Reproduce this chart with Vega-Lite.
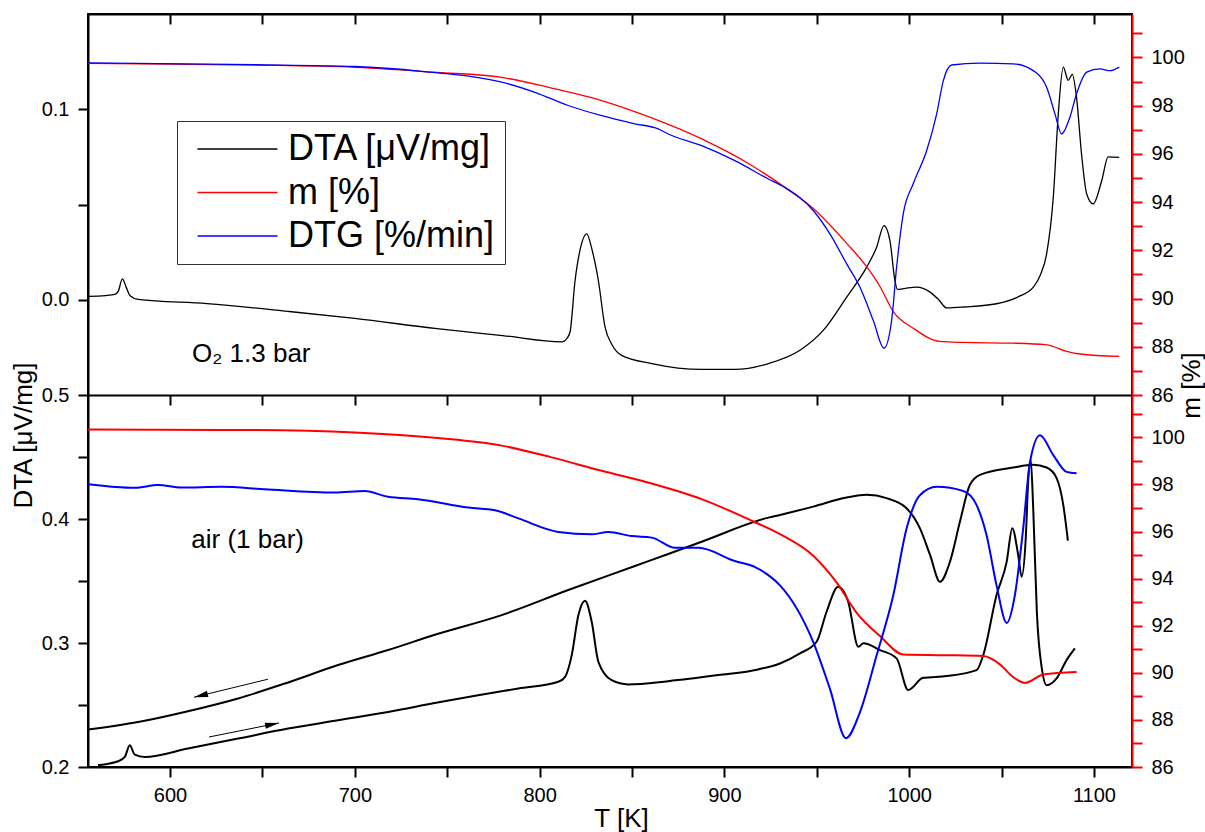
{
  "$schema": "https://vega.github.io/schema/vega-lite/v6.json",
  "width": 1044,
  "height": 753,
  "autosize": {"type": "none"},
  "padding": {"left": 88, "top": 14, "right": 73, "bottom": 65},
  "background": "white",
  "config": {
    "font": "Liberation Sans",
    "view": {"stroke": "black", "strokeWidth": 2},
    "axis": {
      "labelFont": "Liberation Sans", "labelFontSize": 20, "labelColor": "black",
      "titleFont": "Liberation Sans", "titleFontSize": 26, "titleFontWeight": "normal", "titleColor": "black",
      "domainColor": "black", "domainWidth": 2, "tickColor": "black", "tickWidth": 2,
      "grid": false, "labelFlush": false, "labelOverlap": false, "labelBound": false
    },
    "legend": {
      "title": null, "symbolType": "M-3,0H29", "symbolSize": 25, "symbolStrokeWidth": 1.5,
      "labelFontSize": 36, "labelFont": "Liberation Sans", "labelOffset": 65, "rowPadding": 7.5,
      "labelExpr": "datum.label + '\u00a0'",
      "padding": 10, "strokeColor": "#333333", "fillColor": "white", "labelColor": "black", "labelLimit": 500
    }
  },
  "datasets": {
    "topDTA": [
      {"series":"DTA [μV/mg]","T":555.6,"v":0.0018},{"series":"DTA [μV/mg]","T":565,"v":0.0022},{"series":"DTA [μV/mg]","T":570.1,"v":0.0028},{"series":"DTA [μV/mg]","T":572,"v":0.0045},{"series":"DTA [μV/mg]","T":574.2,"v":0.011},{"series":"DTA [μV/mg]","T":576.3,"v":0.0065},{"series":"DTA [μV/mg]","T":578.4,"v":0.0021},{"series":"DTA [μV/mg]","T":582.7,"v":0.0002},{"series":"DTA [μV/mg]","T":620,"v":-0.002},{"series":"DTA [μV/mg]","T":663.9,"v":-0.0061},{"series":"DTA [μV/mg]","T":700,"v":-0.0098},{"series":"DTA [μV/mg]","T":744.5,"v":-0.0152},{"series":"DTA [μV/mg]","T":780,"v":-0.0188},{"series":"DTA [μV/mg]","T":812,"v":-0.0221},{"series":"DTA [μV/mg]","T":815,"v":-0.02},{"series":"DTA [μV/mg]","T":816.5,"v":-0.0168},{"series":"DTA [μV/mg]","T":819.2,"v":0.0101},{"series":"DTA [μV/mg]","T":821.9,"v":0.0262},{"series":"DTA [μV/mg]","T":825.5,"v":0.0346},{"series":"DTA [μV/mg]","T":828.4,"v":0.0262},{"series":"DTA [μV/mg]","T":831.8,"v":0.0101},{"series":"DTA [μV/mg]","T":835.4,"v":-0.0143},{"series":"DTA [μV/mg]","T":839.2,"v":-0.0236},{"series":"DTA [μV/mg]","T":844.4,"v":-0.0292},{"series":"DTA [μV/mg]","T":860.7,"v":-0.0335},{"series":"DTA [μV/mg]","T":887.7,"v":-0.0366},{"series":"DTA [μV/mg]","T":905.7,"v":-0.0366},{"series":"DTA [μV/mg]","T":923.8,"v":-0.0335},{"series":"DTA [μV/mg]","T":940.9,"v":-0.0265},{"series":"DTA [μV/mg]","T":953.5,"v":-0.0161},{"series":"DTA [μV/mg]","T":966.2,"v":0.0014},{"series":"DTA [μV/mg]","T":977,"v":0.0171},{"series":"DTA [μV/mg]","T":982.4,"v":0.0276},{"series":"DTA [μV/mg]","T":986.4,"v":0.0389},{"series":"DTA [μV/mg]","T":989.6,"v":0.031},{"series":"DTA [μV/mg]","T":992.3,"v":0.0101},{"series":"DTA [μV/mg]","T":993.6,"v":0.0054},{"series":"DTA [μV/mg]","T":998,"v":0.006},{"series":"DTA [μV/mg]","T":1004.1,"v":0.0066},{"series":"DTA [μV/mg]","T":1011.3,"v":0.004},{"series":"DTA [μV/mg]","T":1016,"v":0.0},{"series":"DTA [μV/mg]","T":1020.3,"v":-0.0043},{"series":"DTA [μV/mg]","T":1030,"v":-0.0038},{"series":"DTA [μV/mg]","T":1047.3,"v":-0.0021},{"series":"DTA [μV/mg]","T":1060,"v":0.002},{"series":"DTA [μV/mg]","T":1067.2,"v":0.0066},{"series":"DTA [μV/mg]","T":1071,"v":0.013},{"series":"DTA [μV/mg]","T":1074.4,"v":0.0241},{"series":"DTA [μV/mg]","T":1078,"v":0.0538},{"series":"DTA [μV/mg]","T":1080.7,"v":0.0974},{"series":"DTA [μV/mg]","T":1083.4,"v":0.1221},{"series":"DTA [μV/mg]","T":1086.1,"v":0.1152},{"series":"DTA [μV/mg]","T":1088.3,"v":0.1183},{"series":"DTA [μV/mg]","T":1090.6,"v":0.1061},{"series":"DTA [μV/mg]","T":1093.3,"v":0.0764},{"series":"DTA [μV/mg]","T":1096.1,"v":0.0555},{"series":"DTA [μV/mg]","T":1099.6,"v":0.0503},{"series":"DTA [μV/mg]","T":1104.2,"v":0.0625},{"series":"DTA [μV/mg]","T":1107.7,"v":0.075},{"series":"DTA [μV/mg]","T":1113.7,"v":0.0747}
    ],
    "topM": [
      {"series":"m [%]","T":555.6,"v":99.75},{"series":"m [%]","T":600,"v":99.72},{"series":"m [%]","T":645.8,"v":99.68},{"series":"m [%]","T":699.9,"v":99.59},{"series":"m [%]","T":744.6,"v":99.38},{"series":"m [%]","T":779.5,"v":99.17},{"series":"m [%]","T":806.5,"v":98.73},{"series":"m [%]","T":833.6,"v":98.21},{"series":"m [%]","T":860.7,"v":97.49},{"series":"m [%]","T":887.7,"v":96.62},{"series":"m [%]","T":914.8,"v":95.52},{"series":"m [%]","T":932.4,"v":94.63},{"series":"m [%]","T":948.1,"v":93.73},{"series":"m [%]","T":966.2,"v":92.29},{"series":"m [%]","T":977,"v":91.32},{"series":"m [%]","T":984.2,"v":90.5},{"series":"m [%]","T":991.4,"v":89.46},{"series":"m [%]","T":1002.2,"v":88.77},{"series":"m [%]","T":1016.7,"v":88.22},{"series":"m [%]","T":1029.3,"v":88.18},{"series":"m [%]","T":1056.3,"v":88.15},{"series":"m [%]","T":1074.4,"v":88.08},{"series":"m [%]","T":1085.2,"v":87.81},{"series":"m [%]","T":1092.4,"v":87.7},{"series":"m [%]","T":1113.7,"v":87.6}
    ],
    "topDTG": [
      {"series":"DTG [%/min]","T":555.6,"v":0.0},{"series":"DTG [%/min]","T":645.8,"v":-0.006},{"series":"DTG [%/min]","T":699.9,"v":-0.012},{"series":"DTG [%/min]","T":736,"v":-0.028},{"series":"DTG [%/min]","T":779.5,"v":-0.064},{"series":"DTG [%/min]","T":797.5,"v":-0.098},{"series":"DTG [%/min]","T":815.5,"v":-0.142},{"series":"DTG [%/min]","T":833.6,"v":-0.176},{"series":"DTG [%/min]","T":851.6,"v":-0.203},{"series":"DTG [%/min]","T":864.2,"v":-0.22},{"series":"DTG [%/min]","T":869.6,"v":-0.237},{"series":"DTG [%/min]","T":887.7,"v":-0.276},{"series":"DTG [%/min]","T":905.7,"v":-0.326},{"series":"DTG [%/min]","T":923.8,"v":-0.387},{"series":"DTG [%/min]","T":932.4,"v":-0.414},{"series":"DTG [%/min]","T":948.1,"v":-0.492},{"series":"DTG [%/min]","T":957.1,"v":-0.57},{"series":"DTG [%/min]","T":966.2,"v":-0.67},{"series":"DTG [%/min]","T":973.4,"v":-0.748},{"series":"DTG [%/min]","T":980.6,"v":-0.859},{"series":"DTG [%/min]","T":986.4,"v":-0.951},{"series":"DTG [%/min]","T":990.5,"v":-0.859},{"series":"DTG [%/min]","T":993.2,"v":-0.681},{"series":"DTG [%/min]","T":996.8,"v":-0.503},{"series":"DTG [%/min]","T":1002.2,"v":-0.403},{"series":"DTG [%/min]","T":1009.5,"v":-0.292},{"series":"DTG [%/min]","T":1014.9,"v":-0.17},{"series":"DTG [%/min]","T":1018.5,"v":-0.059},{"series":"DTG [%/min]","T":1023,"v":-0.007},{"series":"DTG [%/min]","T":1038.3,"v":-0.001},{"series":"DTG [%/min]","T":1056.3,"v":-0.003},{"series":"DTG [%/min]","T":1069,"v":-0.034},{"series":"DTG [%/min]","T":1074.4,"v":-0.081},{"series":"DTG [%/min]","T":1078.9,"v":-0.17},{"series":"DTG [%/min]","T":1082.5,"v":-0.237},{"series":"DTG [%/min]","T":1087,"v":-0.181},{"series":"DTG [%/min]","T":1090.6,"v":-0.103},{"series":"DTG [%/min]","T":1096.1,"v":-0.031},{"series":"DTG [%/min]","T":1103.3,"v":-0.02},{"series":"DTG [%/min]","T":1108.7,"v":-0.026},{"series":"DTG [%/min]","T":1113.7,"v":-0.014}
    ],
    "botDTA": [
      {"series":"DTA [μV/mg]","run":"heating","T":561,"v":0.2014},{"series":"DTA [μV/mg]","run":"heating","T":571.9,"v":0.2046},{"series":"DTA [μV/mg]","run":"heating","T":575.5,"v":0.2081},{"series":"DTA [μV/mg]","run":"heating","T":578.2,"v":0.2175},{"series":"DTA [μV/mg]","run":"heating","T":580.9,"v":0.21},{"series":"DTA [μV/mg]","run":"heating","T":586.3,"v":0.2081},{"series":"DTA [μV/mg]","run":"heating","T":609.7,"v":0.2149},{"series":"DTA [μV/mg]","run":"heating","T":636.8,"v":0.2229},{"series":"DTA [μV/mg]","run":"heating","T":663.9,"v":0.231},{"series":"DTA [μV/mg]","run":"heating","T":690.9,"v":0.2377},{"series":"DTA [μV/mg]","run":"heating","T":718,"v":0.2444},{"series":"DTA [μV/mg]","run":"heating","T":744.7,"v":0.252},{"series":"DTA [μV/mg]","run":"heating","T":766.7,"v":0.2579},{"series":"DTA [μV/mg]","run":"heating","T":788.5,"v":0.2633},{"series":"DTA [μV/mg]","run":"heating","T":810.1,"v":0.2687},{"series":"DTA [μV/mg]","run":"heating","T":813.8,"v":0.2727},{"series":"DTA [μV/mg]","run":"heating","T":817.4,"v":0.2902},{"series":"DTA [μV/mg]","run":"heating","T":821,"v":0.3225},{"series":"DTA [μV/mg]","run":"heating","T":824.6,"v":0.3341},{"series":"DTA [μV/mg]","run":"heating","T":828.2,"v":0.3171},{"series":"DTA [μV/mg]","run":"heating","T":831.8,"v":0.2848},{"series":"DTA [μV/mg]","run":"heating","T":839,"v":0.27},{"series":"DTA [μV/mg]","run":"heating","T":848,"v":0.2666},{"series":"DTA [μV/mg]","run":"heating","T":869.6,"v":0.2692},{"series":"DTA [μV/mg]","run":"heating","T":896.7,"v":0.2741},{"series":"DTA [μV/mg]","run":"heating","T":918.3,"v":0.2787},{"series":"DTA [μV/mg]","run":"heating","T":930.1,"v":0.2835},{"series":"DTA [μV/mg]","run":"heating","T":940.9,"v":0.2916},{"series":"DTA [μV/mg]","run":"heating","T":949.9,"v":0.301},{"series":"DTA [μV/mg]","run":"heating","T":955.3,"v":0.3252},{"series":"DTA [μV/mg]","run":"heating","T":961.6,"v":0.3454},{"series":"DTA [μV/mg]","run":"heating","T":967,"v":0.3333},{"series":"DTA [μV/mg]","run":"heating","T":972.5,"v":0.2969},{"series":"DTA [μV/mg]","run":"heating","T":975.2,"v":0.2997},{"series":"DTA [μV/mg]","run":"heating","T":984.2,"v":0.2943},{"series":"DTA [μV/mg]","run":"heating","T":993.2,"v":0.2876},{"series":"DTA [μV/mg]","run":"heating","T":999.5,"v":0.262},{"series":"DTA [μV/mg]","run":"heating","T":1007.6,"v":0.2719},{"series":"DTA [μV/mg]","run":"heating","T":1020.3,"v":0.2733},{"series":"DTA [μV/mg]","run":"heating","T":1036.5,"v":0.2781},{"series":"DTA [μV/mg]","run":"heating","T":1040.1,"v":0.2902},{"series":"DTA [μV/mg]","run":"heating","T":1047.3,"v":0.3387},{"series":"DTA [μV/mg]","run":"heating","T":1052.8,"v":0.3656},{"series":"DTA [μV/mg]","run":"heating","T":1055.8,"v":0.3926},{"series":"DTA [μV/mg]","run":"heating","T":1059,"v":0.371},{"series":"DTA [μV/mg]","run":"heating","T":1060.9,"v":0.3535},{"series":"DTA [μV/mg]","run":"heating","T":1063.1,"v":0.3845},{"series":"DTA [μV/mg]","run":"heating","T":1064.5,"v":0.433},{"series":"DTA [μV/mg]","run":"heating","T":1065.8,"v":0.4477},{"series":"DTA [μV/mg]","run":"heating","T":1067.2,"v":0.406},{"series":"DTA [μV/mg]","run":"heating","T":1069.1,"v":0.3252},{"series":"DTA [μV/mg]","run":"heating","T":1071.8,"v":0.2795},{"series":"DTA [μV/mg]","run":"heating","T":1074.4,"v":0.266},{"series":"DTA [μV/mg]","run":"heating","T":1079.8,"v":0.2714},{"series":"DTA [μV/mg]","run":"heating","T":1085.2,"v":0.2862},{"series":"DTA [μV/mg]","run":"heating","T":1089.7,"v":0.2956},
      {"series":"DTA [μV/mg]","run":"cooling","T":555.6,"v":0.2302},{"series":"DTA [μV/mg]","run":"cooling","T":582.7,"v":0.2363},{"series":"DTA [μV/mg]","run":"cooling","T":609.7,"v":0.245},{"series":"DTA [μV/mg]","run":"cooling","T":636.8,"v":0.2553},{"series":"DTA [μV/mg]","run":"cooling","T":663.9,"v":0.2682},{"series":"DTA [μV/mg]","run":"cooling","T":690.9,"v":0.2822},{"series":"DTA [μV/mg]","run":"cooling","T":718,"v":0.2943},{"series":"DTA [μV/mg]","run":"cooling","T":744.6,"v":0.3072},{"series":"DTA [μV/mg]","run":"cooling","T":779.5,"v":0.3225},{"series":"DTA [μV/mg]","run":"cooling","T":815.5,"v":0.3427},{"series":"DTA [μV/mg]","run":"cooling","T":851.6,"v":0.3621},{"series":"DTA [μV/mg]","run":"cooling","T":869.6,"v":0.3718},{"series":"DTA [μV/mg]","run":"cooling","T":887.7,"v":0.3817},{"series":"DTA [μV/mg]","run":"cooling","T":923.8,"v":0.4011},{"series":"DTA [μV/mg]","run":"cooling","T":930.1,"v":0.4033},{"series":"DTA [μV/mg]","run":"cooling","T":948.1,"v":0.41},{"series":"DTA [μV/mg]","run":"cooling","T":966.2,"v":0.4173},{"series":"DTA [μV/mg]","run":"cooling","T":977,"v":0.4195},{"series":"DTA [μV/mg]","run":"cooling","T":987.8,"v":0.4168},{"series":"DTA [μV/mg]","run":"cooling","T":998.6,"v":0.4087},{"series":"DTA [μV/mg]","run":"cooling","T":1005.8,"v":0.3926},{"series":"DTA [μV/mg]","run":"cooling","T":1011.3,"v":0.371},{"series":"DTA [μV/mg]","run":"cooling","T":1016.7,"v":0.3494},{"series":"DTA [μV/mg]","run":"cooling","T":1022.1,"v":0.3656},{"series":"DTA [μV/mg]","run":"cooling","T":1027.5,"v":0.3979},{"series":"DTA [μV/mg]","run":"cooling","T":1032.9,"v":0.4276},{"series":"DTA [μV/mg]","run":"cooling","T":1038.3,"v":0.4356},{"series":"DTA [μV/mg]","run":"cooling","T":1056.3,"v":0.4415},{"series":"DTA [μV/mg]","run":"cooling","T":1067.2,"v":0.4437},{"series":"DTA [μV/mg]","run":"cooling","T":1074.4,"v":0.4415},{"series":"DTA [μV/mg]","run":"cooling","T":1079.8,"v":0.433},{"series":"DTA [μV/mg]","run":"cooling","T":1083.4,"v":0.4114},{"series":"DTA [μV/mg]","run":"cooling","T":1085.9,"v":0.3826}
    ],
    "botM": [
      {"series":"m [%]","T":555.6,"v":100.33},{"series":"m [%]","T":645.8,"v":100.31},{"series":"m [%]","T":699.9,"v":100.21},{"series":"m [%]","T":745,"v":99.97},{"series":"m [%]","T":779.5,"v":99.65},{"series":"m [%]","T":806.5,"v":99.15},{"series":"m [%]","T":833.6,"v":98.58},{"series":"m [%]","T":860.7,"v":98.04},{"series":"m [%]","T":887.7,"v":97.38},{"series":"m [%]","T":914.8,"v":96.46},{"series":"m [%]","T":930.1,"v":95.89},{"series":"m [%]","T":948.1,"v":94.97},{"series":"m [%]","T":960.8,"v":93.83},{"series":"m [%]","T":971.6,"v":92.55},{"series":"m [%]","T":984.2,"v":91.56},{"series":"m [%]","T":996.8,"v":90.78},{"series":"m [%]","T":1020.3,"v":90.75},{"series":"m [%]","T":1040.1,"v":90.71},{"series":"m [%]","T":1049.1,"v":90.36},{"series":"m [%]","T":1056.3,"v":89.82},{"series":"m [%]","T":1062.7,"v":89.57},{"series":"m [%]","T":1072.6,"v":89.93},{"series":"m [%]","T":1090.6,"v":90.04}
    ],
    "botDTG": [
      {"series":"DTG [%/min]","T":555.6,"v":0.0},{"series":"DTG [%/min]","T":580.9,"v":-0.012},{"series":"DTG [%/min]","T":593.5,"v":-0.003},{"series":"DTG [%/min]","T":606.1,"v":-0.011},{"series":"DTG [%/min]","T":627.8,"v":-0.009},{"series":"DTG [%/min]","T":651.2,"v":-0.017},{"series":"DTG [%/min]","T":689.1,"v":-0.028},{"series":"DTG [%/min]","T":705.4,"v":-0.023},{"series":"DTG [%/min]","T":718,"v":-0.042},{"series":"DTG [%/min]","T":734.2,"v":-0.05},{"series":"DTG [%/min]","T":761.4,"v":-0.078},{"series":"DTG [%/min]","T":775.9,"v":-0.087},{"series":"DTG [%/min]","T":788.5,"v":-0.114},{"series":"DTG [%/min]","T":810.1,"v":-0.159},{"series":"DTG [%/min]","T":828.2,"v":-0.167},{"series":"DTG [%/min]","T":837.2,"v":-0.159},{"series":"DTG [%/min]","T":849.8,"v":-0.173},{"series":"DTG [%/min]","T":860.7,"v":-0.178},{"series":"DTG [%/min]","T":873.3,"v":-0.212},{"series":"DTG [%/min]","T":885.9,"v":-0.212},{"series":"DTG [%/min]","T":905.7,"v":-0.256},{"series":"DTG [%/min]","T":916.6,"v":-0.276},{"series":"DTG [%/min]","T":923.8,"v":-0.303},{"series":"DTG [%/min]","T":930.1,"v":-0.337},{"series":"DTG [%/min]","T":948.1,"v":-0.526},{"series":"DTG [%/min]","T":957.1,"v":-0.681},{"series":"DTG [%/min]","T":965.8,"v":-0.846},{"series":"DTG [%/min]","T":973.4,"v":-0.759},{"series":"DTG [%/min]","T":982.4,"v":-0.57},{"series":"DTG [%/min]","T":991.4,"v":-0.37},{"series":"DTG [%/min]","T":998.6,"v":-0.148},{"series":"DTG [%/min]","T":1005.8,"v":-0.037},{"series":"DTG [%/min]","T":1014.9,"v":-0.009},{"series":"DTG [%/min]","T":1029.3,"v":-0.023},{"series":"DTG [%/min]","T":1036.5,"v":-0.07},{"series":"DTG [%/min]","T":1041.9,"v":-0.17},{"series":"DTG [%/min]","T":1047.3,"v":-0.337},{"series":"DTG [%/min]","T":1052.8,"v":-0.462},{"series":"DTG [%/min]","T":1057.2,"v":-0.37},{"series":"DTG [%/min]","T":1061.7,"v":-0.148},{"series":"DTG [%/min]","T":1065.4,"v":0.074},{"series":"DTG [%/min]","T":1070.8,"v":0.163},{"series":"DTG [%/min]","T":1078,"v":0.097},{"series":"DTG [%/min]","T":1085.2,"v":0.041},{"series":"DTG [%/min]","T":1090.6,"v":0.036}
    ]
  },
  "resolve": {"scale": {"y": "independent"}, "axis": {"x": "independent", "y": "independent"}},
  "layer": [
    {
      "data": {"name": "topDTA"},
      "mark": {"type": "line", "strokeWidth": 1.3, "interpolate": "monotone"},
      "encoding": {
        "x": {"field": "T", "type": "quantitative", "scale": {"domain": [555.6, 1120.6], "nice": false, "zero": false},
          "axis": {"orient": "bottom", "values": [600,650,700,750,800,850,900,950,1000,1050,1100], "format": "d",
            "labelExpr": "datum.value % 100 === 0 ? datum.label : ''", "tickSize": 10, "labelPadding": 8,
            "title": "T [K]", "titleX": 533, "titleY": 59, "titleAlign": "center", "titleBaseline": "alphabetic"}},
        "y": {"field": "v", "type": "quantitative", "scale": {"domain": [-0.05, 0.15], "range": [381, 0], "nice": false, "zero": false},
          "axis": {"orient": "left", "values": [0, 0.05, 0.1], "tickSize": 10, "labelPadding": 9,
            "labelExpr": "abs(datum.value*10 - round(datum.value*10)) < 0.001 ? format(datum.value, '.1f') : ''",
            "title": "DTA [μV/mg]", "titleAngle": -90, "titleX": -57, "titleY": 421, "titleAlign": "center", "titleBaseline": "alphabetic",
            "encode": {"ticks": {"update": {"x2": {"signal": "abs(datum.value*10 - round(datum.value*10)) < 0.001 ? -10 : -5"}}}}}},
        "color": {"field": "series", "type": "nominal",
          "scale": {"domain": ["DTA [μV/mg]", "m [%]", "DTG [%/min]"], "range": ["#000000", "#ff0000", "#0000ff"]},
          "legend": {"orient": "none", "legendX": 89, "legendY": 107}}
      }
    },
    {
      "data": {"name": "topM"},
      "mark": {"type": "line", "strokeWidth": 1.3, "interpolate": "monotone"},
      "encoding": {
        "x": {"field": "T", "type": "quantitative", "scale": {"domain": [555.6, 1120.6], "nice": false, "zero": false},
          "axis": {"orient": "top", "values": [600,650,700,750,800,850,900,950,1000,1050,1100], "tickSize": -10, "labels": false, "title": null}},
        "y": {"field": "v", "type": "quantitative", "scale": {"domain": [86, 101.8], "range": [381, 0], "nice": false, "zero": false},
          "axis": {"orient": "right", "values": [86,87,88,89,90,91,92,93,94,95,96,97,98,99,100,101], "tickSize": 10, "labelPadding": 9,
            "labelExpr": "datum.value % 2 === 0 ? datum.label : ''", "domainColor": "#ff0000", "tickColor": "#ff0000",
            "title": "m [%]", "titleAngle": -90, "titleX": 67, "titleY": 371, "titleAlign": "center", "titleBaseline": "alphabetic",
            "encode": {"ticks": {"update": {"x2": {"signal": "datum.value % 2 === 0 ? 10 : 5"}}}}}},
        "color": {"field": "series", "type": "nominal",
          "scale": {"domain": ["DTA [μV/mg]", "m [%]", "DTG [%/min]"], "range": ["#000000", "#ff0000", "#0000ff"]},
          "legend": {"orient": "none", "legendX": 89, "legendY": 107}}
      }
    },
    {
      "data": {"name": "topDTG"},
      "mark": {"type": "line", "strokeWidth": 1.3, "interpolate": "monotone"},
      "encoding": {
        "x": {"field": "T", "type": "quantitative", "scale": {"domain": [555.6, 1120.6], "nice": false, "zero": false},
          "axis": {"orient": "top", "offset": -381, "values": [600,650,700,750,800,850,900,950,1000,1050,1100], "tickSize": -10, "labels": false, "title": null}},
        "y": {"field": "v", "type": "quantitative", "scale": {"domain": [-1.107, 0.163], "range": [381, 0], "nice": false, "zero": false}, "axis": null},
        "color": {"field": "series", "type": "nominal",
          "scale": {"domain": ["DTA [μV/mg]", "m [%]", "DTG [%/min]"], "range": ["#000000", "#ff0000", "#0000ff"]},
          "legend": {"orient": "none", "legendX": 89, "legendY": 107}}
      }
    },
    {
      "data": {"name": "botDTA"},
      "mark": {"type": "line", "strokeWidth": 2, "interpolate": "monotone"},
      "encoding": {
        "x": {"field": "T", "type": "quantitative", "scale": {"domain": [555.6, 1120.6], "nice": false, "zero": false}, "axis": null},
        "y": {"field": "v", "type": "quantitative", "scale": {"domain": [0.2, 0.5], "range": [753, 381], "nice": false, "zero": false},
          "axis": {"orient": "left", "values": [0.2, 0.25, 0.3, 0.35, 0.4, 0.45, 0.5], "tickSize": 10, "labelPadding": 9,
            "labelExpr": "abs(datum.value*10 - round(datum.value*10)) < 0.001 ? format(datum.value, '.1f') : ''", "title": null,
            "encode": {"ticks": {"update": {"x2": {"signal": "abs(datum.value*10 - round(datum.value*10)) < 0.001 ? -10 : -5"}}}}}},
        "detail": {"field": "run", "type": "nominal"},
        "color": {"field": "series", "type": "nominal",
          "scale": {"domain": ["DTA [μV/mg]", "m [%]", "DTG [%/min]"], "range": ["#000000", "#ff0000", "#0000ff"]},
          "legend": {"orient": "none", "legendX": 89, "legendY": 107}}
      }
    },
    {
      "data": {"name": "botM"},
      "mark": {"type": "line", "strokeWidth": 2, "interpolate": "monotone"},
      "encoding": {
        "x": {"field": "T", "type": "quantitative", "scale": {"domain": [555.6, 1120.6], "nice": false, "zero": false}, "axis": null},
        "y": {"field": "v", "type": "quantitative", "scale": {"domain": [86, 101.8], "range": [753, 381], "nice": false, "zero": false},
          "axis": {"orient": "right", "values": [86,87,88,89,90,91,92,93,94,95,96,97,98,99,100,101], "tickSize": 10, "labelPadding": 9,
            "labelExpr": "datum.value % 2 === 0 ? datum.label : ''", "domainColor": "#ff0000", "tickColor": "#ff0000", "title": null,
            "encode": {"ticks": {"update": {"x2": {"signal": "datum.value % 2 === 0 ? 10 : 5"}}}}}},
        "color": {"field": "series", "type": "nominal",
          "scale": {"domain": ["DTA [μV/mg]", "m [%]", "DTG [%/min]"], "range": ["#000000", "#ff0000", "#0000ff"]},
          "legend": {"orient": "none", "legendX": 89, "legendY": 107}}
      }
    },
    {
      "data": {"name": "botDTG"},
      "mark": {"type": "line", "strokeWidth": 2, "interpolate": "monotone"},
      "encoding": {
        "x": {"field": "T", "type": "quantitative", "scale": {"domain": [555.6, 1120.6], "nice": false, "zero": false}, "axis": null},
        "y": {"field": "v", "type": "quantitative", "scale": {"domain": [-0.942, 0.297], "range": [753, 381], "nice": false, "zero": false}, "axis": null},
        "color": {"field": "series", "type": "nominal",
          "scale": {"domain": ["DTA [μV/mg]", "m [%]", "DTG [%/min]"], "range": ["#000000", "#ff0000", "#0000ff"]},
          "legend": {"orient": "none", "legendX": 89, "legendY": 107}}
      }
    },
    {
      "data": {"values": [{}]},
      "mark": {"type": "text", "text": "O₂ 1.3 bar", "font": "Liberation Sans", "fontSize": 26, "align": "left", "baseline": "alphabetic", "color": "black"},
      "encoding": {
        "x": {"datum": 611.9, "type": "quantitative", "scale": {"domain": [555.6, 1120.6], "nice": false, "zero": false}, "axis": null},
        "y": {"datum": -0.0326, "type": "quantitative", "scale": {"domain": [-0.05, 0.15], "range": [381, 0], "nice": false, "zero": false}, "axis": null}
      }
    },
    {
      "data": {"values": [{}]},
      "mark": {"type": "text", "text": "air (1 bar)", "font": "Liberation Sans", "fontSize": 26, "align": "left", "baseline": "alphabetic", "color": "black"},
      "encoding": {
        "x": {"datum": 611.5, "type": "quantitative", "scale": {"domain": [555.6, 1120.6], "nice": false, "zero": false}, "axis": null},
        "y": {"datum": 0.3764, "type": "quantitative", "scale": {"domain": [0.2, 0.5], "range": [753, 381], "nice": false, "zero": false}, "axis": null}
      }
    },
    {
      "data": {"values": [{}]},
      "mark": {"type": "rule", "strokeWidth": 1, "color": "black"},
      "encoding": {
        "x": {"datum": 653.0, "type": "quantitative", "scale": {"domain": [555.6, 1120.6], "nice": false, "zero": false}, "axis": null},
        "x2": {"datum": 613.0},
        "y": {"datum": 0.2708, "type": "quantitative", "scale": {"domain": [0.2, 0.5], "range": [753, 381], "nice": false, "zero": false}, "axis": null},
        "y2": {"datum": 0.2563}
      }
    },
    {
      "data": {"values": [{}]},
      "mark": {"type": "rule", "strokeWidth": 1, "color": "black"},
      "encoding": {
        "x": {"datum": 621.1, "type": "quantitative", "scale": {"domain": [555.6, 1120.6], "nice": false, "zero": false}, "axis": null},
        "x2": {"datum": 659.0},
        "y": {"datum": 0.2242, "type": "quantitative", "scale": {"domain": [0.2, 0.5], "range": [753, 381], "nice": false, "zero": false}, "axis": null},
        "y2": {"datum": 0.2355}
      }
    },
    {
      "data": {"values": [{}]},
      "mark": {"type": "point", "shape": "M0,0L2,-0.45L2,0.45Z", "filled": true, "fill": "black", "strokeWidth": 0, "opacity": 1, "size": 196, "angle": -13.7},
      "encoding": {
        "x": {"datum": 613.0, "type": "quantitative", "scale": {"domain": [555.6, 1120.6], "nice": false, "zero": false}, "axis": null},
        "y": {"datum": 0.2563, "type": "quantitative", "scale": {"domain": [0.2, 0.5], "range": [753, 381], "nice": false, "zero": false}, "axis": null}
      }
    },
    {
      "data": {"values": [{}]},
      "mark": {"type": "point", "shape": "M0,0L2,-0.45L2,0.45Z", "filled": true, "fill": "black", "strokeWidth": 0, "opacity": 1, "size": 196, "angle": 168.7},
      "encoding": {
        "x": {"datum": 659.0, "type": "quantitative", "scale": {"domain": [555.6, 1120.6], "nice": false, "zero": false}, "axis": null},
        "y": {"datum": 0.2355, "type": "quantitative", "scale": {"domain": [0.2, 0.5], "range": [753, 381], "nice": false, "zero": false}, "axis": null}
      }
    }
  ]
}
